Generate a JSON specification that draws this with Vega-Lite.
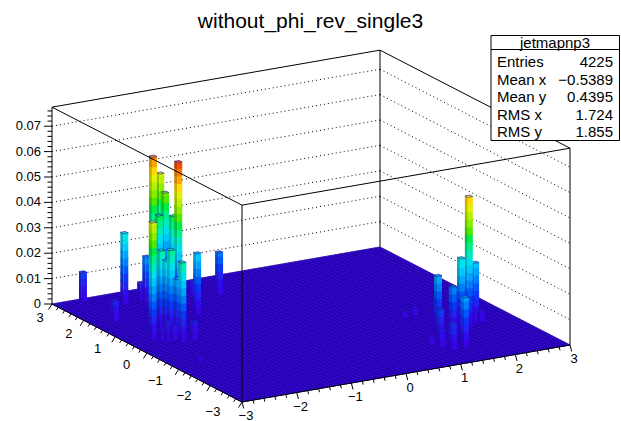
{"$schema":"https://vega.github.io/schema/vega-lite/v6.json","width":621,"height":421,"padding":0,"autosize":{"type":"none"},"background":"white",
"title":{"text":"without_phi_rev_single3","font":"Liberation Sans","fontSize":21,"fontWeight":"normal","color":"#000","anchor":"middle","frame":"group","dy":36},
"config":{"view":{"stroke":null}},
"datasets":{
"frame":[
{"k":"dot","x1":-3,"y1":3,"z1":0.01,"x2":3,"y2":3,"z2":0.01},{"k":"dot","x1":-3,"y1":3,"z1":0.02,"x2":3,"y2":3,"z2":0.02},{"k":"dot","x1":-3,"y1":3,"z1":0.03,"x2":3,"y2":3,"z2":0.03},{"k":"dot","x1":-3,"y1":3,"z1":0.04,"x2":3,"y2":3,"z2":0.04},{"k":"dot","x1":-3,"y1":3,"z1":0.05,"x2":3,"y2":3,"z2":0.05},{"k":"dot","x1":-3,"y1":3,"z1":0.06,"x2":3,"y2":3,"z2":0.06},{"k":"dot","x1":-3,"y1":3,"z1":0.07,"x2":3,"y2":3,"z2":0.07},
{"k":"dot","x1":3,"y1":3,"z1":0.01,"x2":3,"y2":-3,"z2":0.01},{"k":"dot","x1":3,"y1":3,"z1":0.02,"x2":3,"y2":-3,"z2":0.02},{"k":"dot","x1":3,"y1":3,"z1":0.03,"x2":3,"y2":-3,"z2":0.03},{"k":"dot","x1":3,"y1":3,"z1":0.04,"x2":3,"y2":-3,"z2":0.04},{"k":"dot","x1":3,"y1":3,"z1":0.05,"x2":3,"y2":-3,"z2":0.05},{"k":"dot","x1":3,"y1":3,"z1":0.06,"x2":3,"y2":-3,"z2":0.06},{"k":"dot","x1":3,"y1":3,"z1":0.07,"x2":3,"y2":-3,"z2":0.07},
{"k":"back","x1":-3,"y1":3,"z1":0.0775,"x2":3,"y2":3,"z2":0.0775},{"k":"back","x1":3,"y1":3,"z1":0.0775,"x2":3,"y2":-3,"z2":0.0775},{"k":"back","x1":3,"y1":3,"z1":0,"x2":3,"y2":3,"z2":0.0775},
{"k":"front","x1":-3,"y1":3,"z1":0,"x2":-3,"y2":3,"z2":0.0775},{"k":"front","x1":-3,"y1":3,"z1":0.0775,"x2":-3,"y2":-3,"z2":0.0775},{"k":"front","x1":-3,"y1":-3,"z1":0.0775,"x2":3,"y2":-3,"z2":0.0775},{"k":"front","x1":-3,"y1":-3,"z1":0,"x2":-3,"y2":-3,"z2":0.0775},{"k":"front","x1":3,"y1":-3,"z1":0,"x2":3,"y2":-3,"z2":0.0775},{"k":"front","x1":-3,"y1":3,"z1":0,"x2":-3,"y2":-3,"z2":0},{"k":"front","x1":-3,"y1":-3,"z1":0,"x2":3,"y2":-3,"z2":0}],
"floor":[{"X":-3,"Y":-3,"v":0},{"X":3,"Y":-3,"v":1},{"X":3,"Y":3,"v":2},{"X":-3,"Y":3,"v":3},{"X":-3,"Y":-3,"v":4}],
"edges":[{"i":0},{"i":1},{"i":2},{"i":3},{"i":4},{"i":5},{"i":6},{"i":7},{"i":8},{"i":9},{"i":10},{"i":11},{"i":12},{"i":13},{"i":14},{"i":15},{"i":16},{"i":17},{"i":18},{"i":19},{"i":20},{"i":21},{"i":22},{"i":23},{"i":24},{"i":25},{"i":26},{"i":27},{"i":28},{"i":29},{"i":30},{"i":31},{"i":32},{"i":33},{"i":34},{"i":35},{"i":36},{"i":37},{"i":38},{"i":39},{"i":40},{"i":41},{"i":42},{"i":43},{"i":44},{"i":45},{"i":46},{"i":47},{"i":48},{"i":49},{"i":50},{"i":51},{"i":52},{"i":53},{"i":54},{"i":55},{"i":56},{"i":57},{"i":58},{"i":59},{"i":60},{"i":61},{"i":62},{"i":63},{"i":64},{"i":65}],
"bars":[
{"X":-1.19,"Y":2.74,"z":0.046},{"X":-0.87,"Y":2.31,"z":0.005},{"X":-0.49,"Y":2.09,"z":0.0165},{"X":-1.23,"Y":2.52,"z":0.04},{"X":-1.45,"Y":2.52,"z":0.055},{"X":-1.69,"Y":2.48,"z":0.0065},{"X":-2.54,"Y":2.85,"z":0.0114},{"X":-1.7,"Y":2.3,"z":0.018},{"X":-2.05,"Y":2.39,"z":0.028},{"X":-1.58,"Y":2.11,"z":0.035},{"X":-1.41,"Y":1.96,"z":0.035},{"X":-1.55,"Y":1.55,"z":0.0595},{"X":-1.32,"Y":1.35,"z":0.024},{"X":1.62,"Y":-0.42,"z":0.003},{"X":1.43,"Y":-0.43,"z":0.0025},{"X":-2.63,"Y":1.68,"z":0.008},{"X":2.3,"Y":-1.18,"z":0.023},{"X":2.38,"Y":-1.23,"z":0.004},{"X":2.08,"Y":-1.36,"z":0.051},{"X":1.89,"Y":-1.44,"z":0.028},{"X":1.58,"Y":-1.25,"z":0.021},{"X":-2.21,"Y":0.95,"z":0.031},{"X":-2.14,"Y":0.91,"z":0.027},{"X":-2.13,"Y":0.78,"z":0.032},{"X":-2.07,"Y":0.68,"z":0.021},{"X":1.7,"Y":-1.51,"z":0.018},{"X":1.34,"Y":-1.73,"z":0.012},{"X":-2.59,"Y":0.56,"z":0.046},{"X":-2.03,"Y":0.23,"z":0.007},{"X":-2.49,"Y":0.44,"z":0.004},{"X":-2.41,"Y":0.39,"z":0.007},{"X":-2.33,"Y":0.34,"z":0.006},{"X":-2.24,"Y":0.23,"z":0.031},{"X":1.08,"Y":-1.88,"z":0.003},{"X":1.17,"Y":-2.06,"z":0.0067},{"X":1.47,"Y":-2.29,"z":0.0197},{"X":1.25,"Y":-2.29,"z":0.01},{"X":-2.54,"Y":-0.82,"z":0.002}],
"ticks":[{"v":-3,"m":1},{"v":-2.8,"m":0},{"v":-2.6,"m":0},{"v":-2.4,"m":0},{"v":-2.2,"m":0},{"v":-2,"m":1},{"v":-1.8,"m":0},{"v":-1.6,"m":0},{"v":-1.4,"m":0},{"v":-1.2,"m":0},{"v":-1,"m":1},{"v":-0.8,"m":0},{"v":-0.6,"m":0},{"v":-0.4,"m":0},{"v":-0.2,"m":0},{"v":0,"m":1},{"v":0.2,"m":0},{"v":0.4,"m":0},{"v":0.6,"m":0},{"v":0.8,"m":0},{"v":1,"m":1},{"v":1.2,"m":0},{"v":1.4,"m":0},{"v":1.6,"m":0},{"v":1.8,"m":0},{"v":2,"m":1},{"v":2.2,"m":0},{"v":2.4,"m":0},{"v":2.6,"m":0},{"v":2.8,"m":0},{"v":3,"m":1}],
"zticks":[{"v":0,"m":1},{"v":0.002,"m":0},{"v":0.004,"m":0},{"v":0.006,"m":0},{"v":0.008,"m":0},{"v":0.01,"m":1},{"v":0.012,"m":0},{"v":0.014,"m":0},{"v":0.016,"m":0},{"v":0.018,"m":0},{"v":0.02,"m":1},{"v":0.022,"m":0},{"v":0.024,"m":0},{"v":0.026,"m":0},{"v":0.028,"m":0},{"v":0.03,"m":1},{"v":0.032,"m":0},{"v":0.034,"m":0},{"v":0.036,"m":0},{"v":0.038,"m":0},{"v":0.04,"m":1},{"v":0.042,"m":0},{"v":0.044,"m":0},{"v":0.046,"m":0},{"v":0.048,"m":0},{"v":0.05,"m":1},{"v":0.052,"m":0},{"v":0.054,"m":0},{"v":0.056,"m":0},{"v":0.058,"m":0},{"v":0.06,"m":1},{"v":0.062,"m":0},{"v":0.064,"m":0},{"v":0.066,"m":0},{"v":0.068,"m":0},{"v":0.07,"m":1},{"v":0.072,"m":0},{"v":0.074,"m":0},{"v":0.076,"m":0}],
"xlabels":[{"v":-3,"t":"−3"},{"v":-2,"t":"−2"},{"v":-1,"t":"−1"},{"v":0,"t":"0"},{"v":1,"t":"1"},{"v":2,"t":"2"},{"v":3,"t":"3"}],
"zlabels":[{"v":0,"t":"0"},{"v":0.01,"t":"0.01"},{"v":0.02,"t":"0.02"},{"v":0.03,"t":"0.03"},{"v":0.04,"t":"0.04"},{"v":0.05,"t":"0.05"},{"v":0.06,"t":"0.06"},{"v":0.07,"t":"0.07"}],
"stats":[{"line":0,"label":"Entries","value":"4225"},{"line":1,"label":"Mean x","value":"−0.5389"},{"line":2,"label":"Mean y","value":"0.4395"},{"line":3,"label":"RMS x","value":"1.724"},{"line":4,"label":"RMS y","value":"1.855"}]
},
"encoding":{
"x":{"field":"sx","type":"quantitative","scale":{"domain":[0,621],"nice":false,"zero":false},"axis":null},
"y":{"field":"sy","type":"quantitative","scale":{"domain":[0,421],"reverse":true,"nice":false,"zero":false},"axis":null}},
"layer":[
{"data":{"name":"frame"},"transform":[{"filter":"datum.k=='dot'"},{"calculate":"242+328*(datum.x1+3)/6-190*(datum.y1+3)/6","as":"sx"},{"calculate":"402-57*(datum.x1+3)/6-98*(datum.y1+3)/6-datum.z1*2540","as":"sy"},{"calculate":"242+328*(datum.x2+3)/6-190*(datum.y2+3)/6","as":"sx2"},{"calculate":"402-57*(datum.x2+3)/6-98*(datum.y2+3)/6-datum.z2*2540","as":"sy2"}],
"mark":{"type":"rule","color":"#000","strokeWidth":1,"strokeDash":[1,3]},"encoding":{"x2":{"field":"sx2"},"y2":{"field":"sy2"}}},
{"data":{"name":"frame"},"transform":[{"filter":"datum.k=='back'"},{"calculate":"242+328*(datum.x1+3)/6-190*(datum.y1+3)/6","as":"sx"},{"calculate":"402-57*(datum.x1+3)/6-98*(datum.y1+3)/6-datum.z1*2540","as":"sy"},{"calculate":"242+328*(datum.x2+3)/6-190*(datum.y2+3)/6","as":"sx2"},{"calculate":"402-57*(datum.x2+3)/6-98*(datum.y2+3)/6-datum.z2*2540","as":"sy2"}],
"mark":{"type":"rule","color":"#000","strokeWidth":1},"encoding":{"x2":{"field":"sx2"},"y2":{"field":"sy2"}}},
{"data":{"name":"floor"},"transform":[{"calculate":"242+328*(datum.X+3)/6-190*(datum.Y+3)/6","as":"sx"},{"calculate":"402-57*(datum.X+3)/6-98*(datum.Y+3)/6","as":"sy"}],
"mark":{"type":"line","fill":"#3a08e8","stroke":"#3a08e8","strokeWidth":0.5},"encoding":{"order":{"field":"v","type":"quantitative"}}},
{"data":{"name":"edges"},"transform":[{"calculate":"-3+datum.i*6/65","as":"t"},{"calculate":"242+328*(datum.t+3)/6","as":"sx"},{"calculate":"402-57*(datum.t+3)/6","as":"sy"},{"calculate":"datum.sx-190","as":"sx2"},{"calculate":"datum.sy-98","as":"sy2"}],
"mark":{"type":"rule","color":"#16007a","strokeWidth":0.6},"encoding":{"x2":{"field":"sx2"},"y2":{"field":"sy2"}}},
{"data":{"name":"edges"},"transform":[{"calculate":"-3+datum.i*6/65","as":"t"},{"calculate":"242-190*(datum.t+3)/6","as":"sx"},{"calculate":"402-98*(datum.t+3)/6","as":"sy"},{"calculate":"datum.sx+328","as":"sx2"},{"calculate":"datum.sy-57","as":"sy2"}],
"mark":{"type":"rule","color":"#16007a","strokeWidth":0.6},"encoding":{"x2":{"field":"sx2"},"y2":{"field":"sy2"}}},
{"data":{"name":"bars"},"transform":[
{"calculate":"sequence(0,ceil(datum.z/0.003))","as":"seg"},{"flatten":["seg"]},
{"calculate":"datum.seg*0.003","as":"zlo"},{"calculate":"min(datum.z,(datum.seg+1)*0.003)","as":"zhi"},
{"calculate":"datum.zhi>=datum.z?[0,1,2,3]:[0,1]","as":"face"},{"flatten":["face"]},
{"calculate":"datum.face==3?[0,1,2,3,4,5,6]:[0,1,2,3,4]","as":"v"},{"flatten":["v"]},
{"calculate":"[0,1,1,0,0,0,0][datum.v]","as":"p"},{"calculate":"[0,0,1,1,0,0,0][datum.v]","as":"q"},
{"calculate":"datum.X+(datum.face==0?0:(datum.face==3?[0,0,0,0,0,1,1][datum.v]:datum.p)*6/65)","as":"PX"},
{"calculate":"datum.Y+(datum.face==0?datum.p*6/65:(datum.face==1?0:(datum.face==3?[1,1,0,0,0,0,0][datum.v]:datum.q)*6/65))","as":"PY"},
{"calculate":"datum.face==3?[0,1,1,0,1,1,0][datum.v]*datum.z:(datum.face==2?datum.zhi:(datum.q==1?min(datum.z,datum.zhi+0.0003):datum.zlo))","as":"PZ"},
{"calculate":"242+328*(datum.PX+3)/6-190*(datum.PY+3)/6","as":"sx"},
{"calculate":"402-57*(datum.PX+3)/6-98*(datum.PY+3)/6-datum.PZ*2540","as":"sy"},
{"calculate":"datum.X+'_'+datum.Y+'_'+datum.seg+'_'+datum.face","as":"id"},
{"calculate":"datum.face==3?null:(datum.zlo+datum.zhi)/2+(datum.face==0?1:0)","as":"shade"},
{"calculate":"datum.face>=2?'#1a1a98':'transparent'","as":"sc"}],
"mark":{"type":"line","strokeOpacity":0.6,"strokeWidth":1,"strokeJoin":"round"},
"encoding":{"detail":{"field":"id"},"order":{"field":"v","type":"quantitative"},
"stroke":{"field":"sc","type":"nominal","scale":null},
"fill":{"field":"shade","type":"quantitative","legend":null,"scale":{"domain":[0,0.006,0.012,0.018,0.024,0.03,0.036,0.042,0.048,0.054,0.06,1,1.006,1.012,1.018,1.024,1.03,1.036,1.042,1.048,1.054,1.06],"range":["#3a00e0","#2a10f0","#0040f8","#0090f8","#00d8f8","#00f0a0","#00e800","#a0f000","#f8f000","#ff9000","#f00000","#2e00b4","#2210c0","#0034c8","#0074c8","#00acc8","#00c080","#00ba00","#80c000","#c8c000","#cc7400","#c00000"]}}}},
{"data":{"name":"frame"},"transform":[{"filter":"datum.k=='front'"},{"calculate":"242+328*(datum.x1+3)/6-190*(datum.y1+3)/6","as":"sx"},{"calculate":"402-57*(datum.x1+3)/6-98*(datum.y1+3)/6-datum.z1*2540","as":"sy"},{"calculate":"242+328*(datum.x2+3)/6-190*(datum.y2+3)/6","as":"sx2"},{"calculate":"402-57*(datum.x2+3)/6-98*(datum.y2+3)/6-datum.z2*2540","as":"sy2"}],
"mark":{"type":"rule","color":"#000","strokeWidth":1},"encoding":{"x2":{"field":"sx2"},"y2":{"field":"sy2"}}},
{"data":{"name":"ticks"},"transform":[{"calculate":"242+328*(datum.v+3)/6","as":"sx"},{"calculate":"402-57*(datum.v+3)/6","as":"sy"},{"calculate":"datum.sx+(datum.m?1.7:1)","as":"sx2"},{"calculate":"datum.sy+(datum.m?6.5:3.5)","as":"sy2"}],
"mark":{"type":"rule","color":"#000","strokeWidth":1},"encoding":{"x2":{"field":"sx2"},"y2":{"field":"sy2"}}},
{"data":{"name":"ticks"},"transform":[{"calculate":"242-190*(datum.v+3)/6","as":"sx"},{"calculate":"402-98*(datum.v+3)/6","as":"sy"},{"calculate":"datum.sx-(datum.m?3.5:2)","as":"sx2"},{"calculate":"datum.sy+(datum.m?5.5:3)","as":"sy2"}],
"mark":{"type":"rule","color":"#000","strokeWidth":1},"encoding":{"x2":{"field":"sx2"},"y2":{"field":"sy2"}}},
{"data":{"name":"zticks"},"transform":[{"calculate":"52","as":"sx"},{"calculate":"304-datum.v*2540","as":"sy"},{"calculate":"datum.m?44:47.5","as":"sx2"},{"calculate":"datum.sy","as":"sy2"}],
"mark":{"type":"rule","color":"#000","strokeWidth":1},"encoding":{"x2":{"field":"sx2"},"y2":{"field":"sy2"}}},
{"data":{"name":"xlabels"},"transform":[{"calculate":"246+328*(datum.v+3)/6","as":"sx"},{"calculate":"416-57*(datum.v+3)/6","as":"sy"}],
"mark":{"type":"text","font":"Liberation Sans","fontSize":13,"align":"center","baseline":"middle","color":"#000"},"encoding":{"text":{"field":"t"}}},
{"data":{"name":"xlabels"},"transform":[{"calculate":"213-173*(datum.v+3)/6","as":"sx"},{"calculate":"412-94*(datum.v+3)/6","as":"sy"}],
"mark":{"type":"text","font":"Liberation Sans","fontSize":13,"align":"center","baseline":"middle","color":"#000"},"encoding":{"text":{"field":"t"}}},
{"data":{"name":"zlabels"},"transform":[{"calculate":"41","as":"sx"},{"calculate":"304-datum.v*2540","as":"sy"}],
"mark":{"type":"text","font":"Liberation Sans","fontSize":13,"align":"right","baseline":"middle","color":"#000"},"encoding":{"text":{"field":"t"}}},
{"data":{"values":[{"part":"box"}]},"transform":[{"calculate":"491","as":"sx"},{"calculate":"619.5","as":"sx2"},{"calculate":"35.5","as":"sy"},{"calculate":"140.5","as":"sy2"}],"mark":{"type":"rect","fill":"white","stroke":"#000","strokeWidth":1},"encoding":{"x2":{"field":"sx2"},"y2":{"field":"sy2"}}},
{"data":{"values":[{"part":"sep"}]},"transform":[{"calculate":"491","as":"sx"},{"calculate":"619.5","as":"sx2"},{"calculate":"49.5","as":"sy"},{"calculate":"49.5","as":"sy2"}],"mark":{"type":"rule","color":"#000","strokeWidth":1},"encoding":{"x2":{"field":"sx2"},"y2":{"field":"sy2"}}},
{"data":{"values":[{"t":"jetmapnp3"}]},"transform":[{"calculate":"555","as":"sx"},{"calculate":"43","as":"sy"}],"mark":{"type":"text","font":"Liberation Sans","fontSize":15,"align":"center","baseline":"middle","color":"#000"},"encoding":{"text":{"field":"t"}}},
{"data":{"name":"stats"},"transform":[{"calculate":"497","as":"sx"},{"calculate":"62+datum.line*17.6","as":"sy"}],"mark":{"type":"text","font":"Liberation Sans","fontSize":15,"align":"left","baseline":"middle","color":"#000"},"encoding":{"text":{"field":"label"}}},
{"data":{"name":"stats"},"transform":[{"calculate":"613","as":"sx"},{"calculate":"62+datum.line*17.6","as":"sy"}],"mark":{"type":"text","font":"Liberation Sans","fontSize":15,"align":"right","baseline":"middle","color":"#000"},"encoding":{"text":{"field":"value"}}}
]}
